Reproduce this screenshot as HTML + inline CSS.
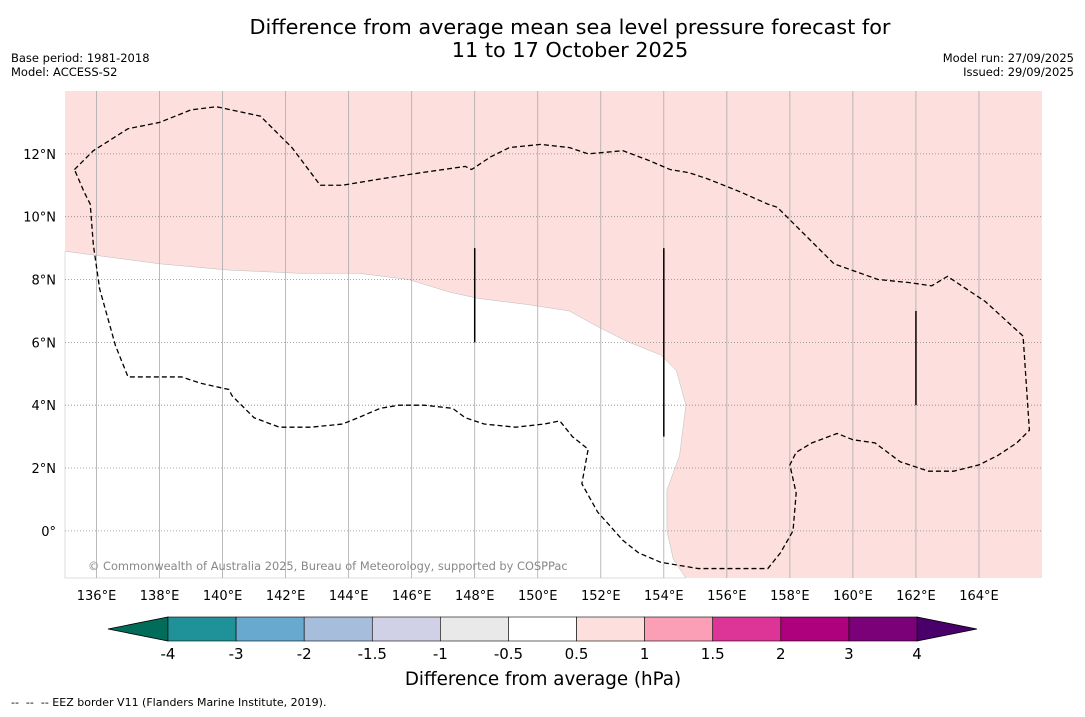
<!DOCTYPE html>
<html><head><meta charset="utf-8"><style>
html,body{margin:0;padding:0;background:#fff;}
body{width:1085px;height:713px;overflow:hidden;font-family:"DejaVu Sans","Liberation Sans",sans-serif;}
</style></head><body>
<svg id="chart" width="1085" height="713" viewBox="0 0 1085 713" xmlns="http://www.w3.org/2000/svg" font-family="DejaVu Sans, Liberation Sans, sans-serif">
<text x="570" y="34" font-size="20.8" text-anchor="middle">Difference from average mean sea level pressure forecast for</text>
<text x="570" y="57" font-size="20.8" text-anchor="middle">11 to 17 October 2025</text>
<text x="11" y="62" font-size="11.5">Base period: 1981-2018</text>
<text x="11" y="76" font-size="11.5">Model: ACCESS-S2</text>
<text x="1074" y="62" font-size="11.5" text-anchor="end">Model run: 27/09/2025</text>
<text x="1074" y="76" font-size="11.5" text-anchor="end">Issued: 29/09/2025</text>
<g id="map"></g>
<g id="cbar"></g>
<text x="543" y="685" font-size="18.3" text-anchor="middle">Difference from average (hPa)</text>
<text x="11" y="706" font-size="11" xml:space="preserve">--  --  -- EEZ border V11 (Flanders Marine Institute, 2019).</text>
</svg>
<script>
const lonTicks=[136,138,140,142,144,146,148,150,152,154,156,158,160,162,164];
const latTicks=[12,10,8,6,4,2,0];
const cbBounds=[-4,-3,-2,-1.5,-1,-0.5,0.5,1,1.5,2,3,4];
const cbColors=['#1f9199','#67a9cf','#a6bddb','#d0d1e6','#e9e9ea','#ffffff','#fde0dd','#fa9fb5','#dd3497','#ae017e','#7a0177'];
// white (near-zero) region boundary [lon,lat]
const whiteLon=[135,138,140.2,142.4,144.3,145.9,147.2,148.1,149.7,151,151.9,152.9,153.9,154.4,154.7,154.5,154.1,154.1,154.3,154.7];
const whiteLat=[8.9,8.5,8.3,8.2,8.2,8,7.6,7.4,7.2,7,6.5,6,5.6,5.1,4,2.4,1.3,0,-0.9,-1.5];
// dashed 0.5 hPa contour
const cLon=[135.3,135.9,137,138,139,139.8,141.2,142.2,143.1,143.8,145,146.3,147.7,147.9,148.5,149.1,150.1,151,151.6,152.7,153.5,154.2,154.8,155.4,156.4,157.3,157.6,158.3,159.4,160.8,161.8,162.5,163,164.2,165.4,165.6,165.2,164.6,164,163.2,162.4,161.5,160.7,160,159.5,158.7,158.2,158,158.2,158.1,157.7,157.3,156.4,155.1,153.9,153.2,152.7,151.9,151.4,151.6,151.1,150.7,150.2,149.3,148.3,147.7,147.3,146.4,145.6,145,144.3,143.8,142.8,141.8,141,140.3,140.2,139.3,138.7,138,137,136.6,136.1,135.9,135.8,135.6,135.3];
const cLat=[11.5,12.1,12.8,13,13.4,13.5,13.2,12.2,11.0,11.0,11.2,11.4,11.6,11.5,11.9,12.2,12.3,12.2,12.0,12.1,11.8,11.5,11.4,11.2,10.8,10.4,10.3,9.6,8.5,8.0,7.9,7.8,8.1,7.3,6.2,3.2,2.8,2.4,2.1,1.9,1.9,2.2,2.8,2.9,3.1,2.8,2.5,2.1,1.2,0.0,-0.7,-1.2,-1.2,-1.2,-1.0,-0.7,-0.3,0.6,1.5,2.6,3.0,3.5,3.4,3.3,3.4,3.6,3.9,4.0,4.0,3.9,3.6,3.4,3.3,3.3,3.6,4.3,4.5,4.7,4.9,4.9,4.9,5.9,7.7,9.1,10.4,10.8,11.5];
// vertical solid segments
const segLon=[148,154,162];
const segLat1=[9,9,7];
const segLat2=[6,3,4];

const NS='http://www.w3.org/2000/svg';
const X0=65,X1=1042,Y0=91,Y1=578,LON0=135,LON1=166,LAT0=14,LAT1=-1.5;
const xs=l=>X0+(l-LON0)/(LON1-LON0)*(X1-X0);
const ys=l=>Y0+(LAT0-l)/(LAT0-LAT1)*(Y1-Y0);
function mk(tag,attrs,parent){const e=document.createElementNS(NS,tag);for(const k in attrs)e.setAttribute(k,attrs[k]);parent.appendChild(e);return e;}
const map=document.getElementById('map');
let r=mk('rect',{x:X0,y:Y0,width:X1-X0,height:Y1-Y0,fill:'#fde0dd'},map);


let pts=whiteLon.map((l,i)=>xs(l)+','+ys(whiteLat[i]));pts.push(X0+','+Y1);
let w=mk('polygon',{points:pts.join(' '),fill:'#ffffff',stroke:'#bbbbbb','stroke-width':0.5},map);


lonTicks.forEach(l=>{
  let g=mk('line',{x1:xs(l),x2:xs(l),y1:Y0,y2:Y1,stroke:'#aaaaaa','stroke-width':0.8},map);
  
  
  let t=mk('text',{x:xs(l),y:600,'font-size':13,'text-anchor':'middle'},map);t.textContent=l+'°E';
  
  
});
latTicks.forEach(l=>{
  let g=mk('line',{x1:X0,x2:X1,y1:ys(l),y2:ys(l),stroke:'#888888','stroke-width':0.8,'stroke-dasharray':'1,2'},map);
  
  
  let t=mk('text',{x:56,y:ys(l)+5,'font-size':13,'text-anchor':'end'},map);t.textContent=l===0?'0°':l+'°N';
  
  
});
let cp=cLon.map((l,i)=>xs(l)+','+ys(cLat[i])).join(' ');
let c=mk('polyline',{points:cp,fill:'none',stroke:'#000','stroke-width':1.3,'stroke-dasharray':'5,3'},map);


segLon.forEach((l,i)=>{
  let s=mk('line',{x1:xs(l),x2:xs(l),y1:ys(segLat1[i]),y2:ys(segLat2[i]),stroke:'#000','stroke-width':1.5},map);
  
  
});
let cr=mk('text',{x:88,y:570,'font-size':11.4,fill:'#888'},map);cr.textContent='© Commonwealth of Australia 2025, Bureau of Meteorology, supported by COSPPac';



const cb=document.getElementById('cbar');
const CB0=168,CB1=917,CY=617,CH=24,n=cbColors.length,sw=(CB1-CB0)/n;
let lt=mk('polygon',{points:`108,${CY+CH/2} ${CB0},${CY} ${CB0},${CY+CH}`,fill:'#016c59',stroke:'#000','stroke-width':0.8},cb);


let rt=mk('polygon',{points:`977,${CY+CH/2} ${CB1},${CY} ${CB1},${CY+CH}`,fill:'#49006a',stroke:'#000','stroke-width':0.8},cb);


cbColors.forEach((col,i)=>{
  let s=mk('rect',{x:CB0+i*sw,y:CY,width:sw,height:CH,fill:col,stroke:'#000','stroke-width':0.6},cb);
  
  
});
cbBounds.forEach((b,i)=>{
  let t=mk('text',{x:CB0+i*sw,y:659,'font-size':15,'text-anchor':'middle'},cb);t.textContent=b;
  
  
});
</script>
</body></html>
